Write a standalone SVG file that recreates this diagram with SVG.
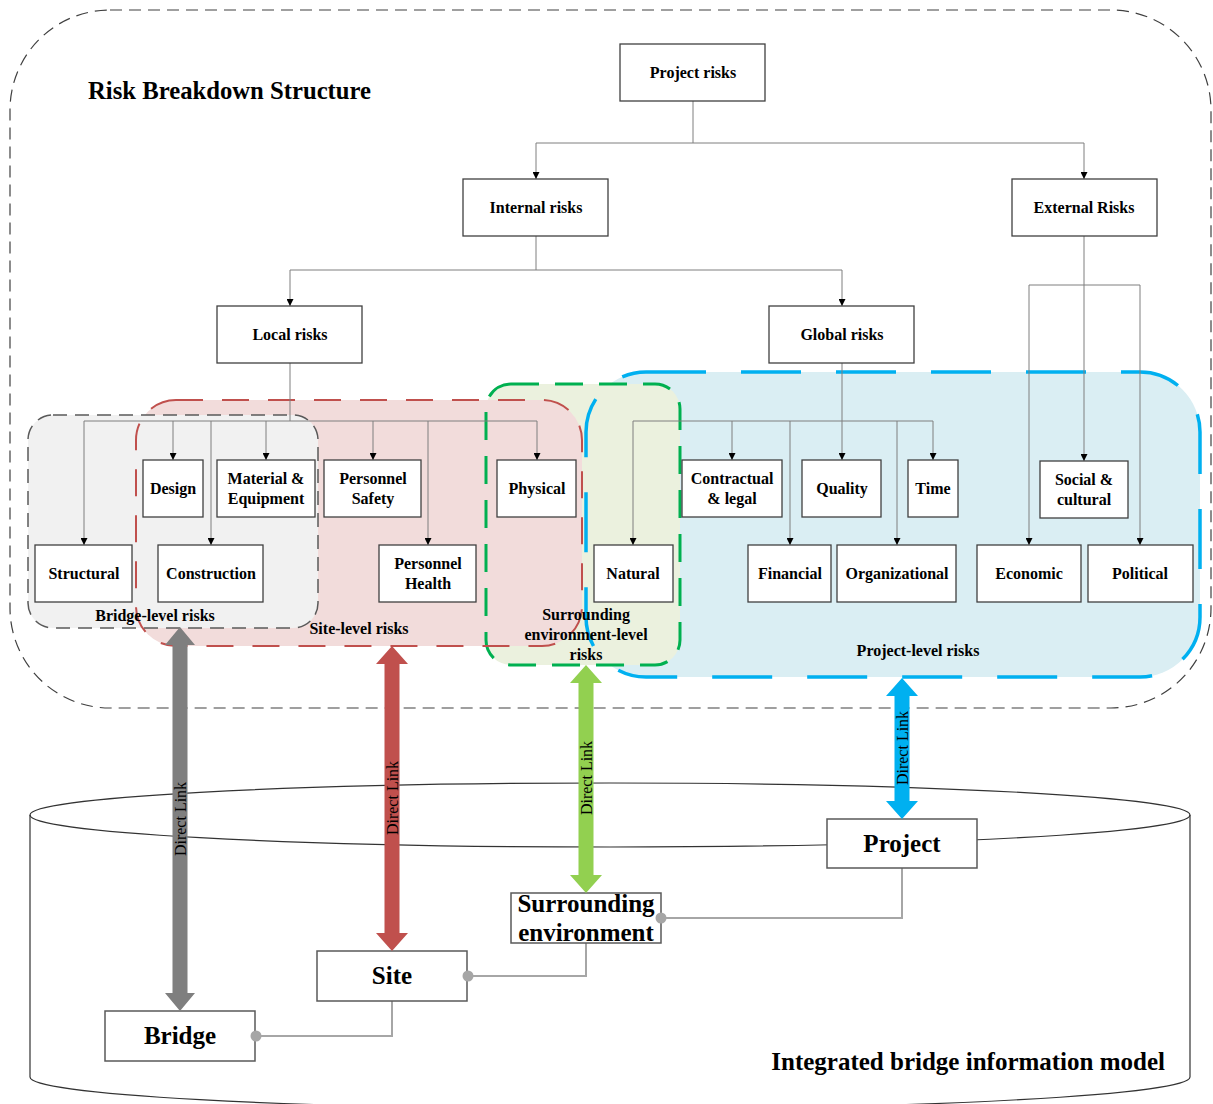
<svg xmlns="http://www.w3.org/2000/svg" width="1213" height="1104" viewBox="0 0 1213 1104">
<defs>
<style>
.box{fill:#fff;stroke:#404040;stroke-width:1.3}
.bbox{fill:#fff;stroke:#595959;stroke-width:1.5}
.t{font-family:"Liberation Serif","Times New Roman",serif;font-weight:bold;font-size:16px;fill:#000;text-anchor:middle}
.tb{font-family:"Liberation Serif","Times New Roman",serif;font-weight:bold;font-size:25px;fill:#000;text-anchor:middle}
.dl{font-family:"Liberation Serif","Times New Roman",serif;font-size:16px;fill:#000;text-anchor:middle}
.tree{fill:none;stroke:#7f7f7f;stroke-width:1}
.tree.a{marker-end:url(#ah)}
.link{fill:none;stroke:#a6a6a6;stroke-width:2}
.dot{fill:#a6a6a6}
</style>
<marker id="ah" viewBox="0 0 8 8" refX="8" refY="4" markerWidth="8" markerHeight="7" orient="auto" markerUnits="userSpaceOnUse"><path d="M0,0 L8,4 L0,8 z" fill="#000"/></marker>
</defs>
<rect width="1213" height="1104" fill="#fff"/>

<!-- outer RBS frame -->
<g id="rbs-frame">
<rect x="10" y="10" width="1201" height="698" rx="100" ry="100" fill="none" stroke="#404040" stroke-width="1.2" stroke-dasharray="12 7"/>
<text x="88" y="99" style="font-family:'Liberation Serif','Times New Roman',serif;font-weight:bold;font-size:24.7px">Risk Breakdown Structure</text>
</g>

<!-- group fills -->
<g id="group-fills">
<rect x="586" y="372" width="614" height="305" rx="60" fill="#daeef3"/>
<rect x="486" y="384" width="194" height="281" rx="25" fill="#ebf1de"/>
<rect x="136" y="400" width="446" height="246" rx="40" fill="#f2dcdb"/>
<rect x="28" y="415" width="290" height="213" rx="25" fill="#f1f1f1"/>
</g>
<g id="group-strokes" fill="none">
<rect x="586" y="372" width="614" height="305" rx="60" stroke="#00b0f0" stroke-width="3.5" stroke-dasharray="60 35"/>
<rect x="486" y="384" width="194" height="281" rx="25" stroke="#00b050" stroke-width="3" stroke-dasharray="28 16"/>
<rect x="136" y="400" width="446" height="246" rx="40" stroke="#c0504d" stroke-width="2" stroke-dasharray="27 19"/>
<rect x="28" y="415" width="290" height="213" rx="25" stroke="#595959" stroke-width="1.5" stroke-dasharray="14 8"/>
</g>
<g id="group-labels">
<text class="t" x="155" y="621">Bridge-level risks</text>
<text class="t" x="359" y="634">Site-level risks</text>
<text class="t" x="586" y="620">Surrounding</text>
<text class="t" x="586" y="640">environment-level</text>
<text class="t" x="586" y="660">risks</text>
<text class="t" x="918" y="656">Project-level risks</text>
</g>

<!-- tree connectors -->
<g id="tree-connectors">
<path class="tree a" d="M693,101 V143 H536 V179"/>
<path class="tree a" d="M693,143 H1084 V179"/>
<path class="tree a" d="M536,236 V270 H290 V306"/>
<path class="tree a" d="M536,270 H842 V306"/>
<path class="tree a" d="M1084,236 V461"/>
<path class="tree a" d="M1084,285 H1029 V545"/>
<path class="tree a" d="M1084,285 H1140 V545"/>
<path class="tree" d="M290,363 V421 M84,421 H537"/>
<path class="tree a" d="M84,421 V545"/>
<path class="tree a" d="M173,421 V460"/>
<path class="tree a" d="M211,421 V545"/>
<path class="tree a" d="M266,421 V460"/>
<path class="tree a" d="M373,421 V460"/>
<path class="tree a" d="M428,421 V545"/>
<path class="tree a" d="M537,421 V460"/>
<path class="tree" d="M633,421 H933"/>
<path class="tree a" d="M842,363 V460"/>
<path class="tree a" d="M633,421 V545"/>
<path class="tree a" d="M732,421 V460"/>
<path class="tree a" d="M790,421 V545"/>
<path class="tree a" d="M897,421 V545"/>
<path class="tree a" d="M933,421 V460"/>
</g>

<!-- tree nodes -->
<g id="n-project-risks"><rect class="box" x="620" y="44" width="145" height="57"/><text class="t" x="693" y="78">Project risks</text></g>
<g id="n-internal"><rect class="box" x="463" y="179" width="145" height="57"/><text class="t" x="536" y="213">Internal risks</text></g>
<g id="n-external"><rect class="box" x="1012" y="179" width="145" height="57"/><text class="t" x="1084" y="213">External Risks</text></g>
<g id="n-local"><rect class="box" x="217" y="306" width="145" height="57"/><text class="t" x="290" y="340">Local risks</text></g>
<g id="n-global"><rect class="box" x="769" y="306" width="145" height="57"/><text class="t" x="842" y="340">Global risks</text></g>

<g id="n-structural"><rect class="box" x="35" y="545" width="97" height="57"/><text class="t" x="84" y="579">Structural</text></g>
<g id="n-design"><rect class="box" x="143" y="460" width="60" height="57"/><text class="t" x="173" y="494">Design</text></g>
<g id="n-construction"><rect class="box" x="158" y="545" width="105" height="57"/><text class="t" x="211" y="579">Construction</text></g>
<g id="n-material"><rect class="box" x="217" y="460" width="98" height="57"/><text class="t" x="266" y="484">Material &amp;</text><text class="t" x="266" y="504">Equipment</text></g>
<g id="n-safety"><rect class="box" x="324" y="460" width="97" height="57"/><text class="t" x="373" y="484">Personnel</text><text class="t" x="373" y="504">Safety</text></g>
<g id="n-health"><rect class="box" x="379" y="545" width="97" height="57"/><text class="t" x="428" y="569">Personnel</text><text class="t" x="428" y="589">Health</text></g>
<g id="n-physical"><rect class="box" x="497" y="460" width="79" height="57"/><text class="t" x="537" y="494">Physical</text></g>
<g id="n-natural"><rect class="box" x="594" y="545" width="79" height="57"/><text class="t" x="633" y="579">Natural</text></g>
<g id="n-contractual"><rect class="box" x="682" y="460" width="100" height="57"/><text class="t" x="732" y="484">Contractual</text><text class="t" x="732" y="504">&amp; legal</text></g>
<g id="n-quality"><rect class="box" x="802" y="460" width="79" height="57"/><text class="t" x="842" y="494">Quality</text></g>
<g id="n-time"><rect class="box" x="908" y="460" width="50" height="57"/><text class="t" x="933" y="494">Time</text></g>
<g id="n-financial"><rect class="box" x="748" y="545" width="83" height="57"/><text class="t" x="790" y="579">Financial</text></g>
<g id="n-organizational"><rect class="box" x="837" y="545" width="119" height="57"/><text class="t" x="897" y="579">Organizational</text></g>
<g id="n-social"><rect class="box" x="1040" y="461" width="88" height="57"/><text class="t" x="1084" y="485">Social &amp;</text><text class="t" x="1084" y="505">cultural</text></g>
<g id="n-economic"><rect class="box" x="977" y="545" width="104" height="57"/><text class="t" x="1029" y="579">Economic</text></g>
<g id="n-political"><rect class="box" x="1088" y="545" width="105" height="57"/><text class="t" x="1140" y="579">Political</text></g>

<!-- cylinder -->
<g id="ibim-cylinder" fill="none" stroke="#333" stroke-width="1.2">
<ellipse cx="610" cy="815" rx="580" ry="32"/>
<path d="M30,815 V1077 A580,32 0 0 0 1190,1077 V815"/>
<text x="1165" y="1070" stroke="none" style="font-family:'Liberation Serif','Times New Roman',serif;font-weight:bold;font-size:25px;fill:#000;text-anchor:end">Integrated bridge information model</text>
</g>

<!-- bottom connectors -->
<g id="model-connectors">
<path class="link" d="M255,1036 H392 V1001"/>
<path class="link" d="M467,976 H586 V943"/>
<path class="link" d="M661,918 H902 V868"/>
</g>

<!-- bottom nodes -->
<g id="m-project"><rect class="bbox" x="827" y="819" width="150" height="49"/><text class="tb" x="902" y="852">Project</text></g>
<g id="m-surrounding"><rect class="bbox" x="511" y="893" width="150" height="50"/><text class="tb" x="586" y="912">Surrounding</text><text class="tb" x="586" y="941">environment</text></g>
<g id="m-site"><rect class="bbox" x="317" y="951" width="150" height="50"/><text class="tb" x="392" y="984">Site</text></g>
<g id="m-bridge"><rect class="bbox" x="105" y="1011" width="150" height="50"/><text class="tb" x="180" y="1044">Bridge</text></g>

<g id="connector-dots">
<circle class="dot" cx="256" cy="1036" r="5.5"/>
<circle class="dot" cx="468" cy="976" r="5.5"/>
<circle class="dot" cx="661" cy="918" r="5.5"/>
</g>

<!-- direct links -->
<g id="direct-links">
<polygon fill="#7f7f7f" points="180,627 195,645 187.5,645 187.5,993 195,993 180,1011 165,993 172.5,993 172.5,645 165,645"/>
<polygon fill="#c0504d" points="392,646 408,664 399.5,664 399.5,933 408,933 392,951 376,933 384.5,933 384.5,664 376,664"/>
<polygon fill="#92d050" points="586,665 602,683 593.5,683 593.5,875 602,875 586,893 570,875 578.5,875 578.5,683 570,683"/>
<polygon fill="#00b0f0" points="902,678 918,696 909.5,696 909.5,801 918,801 902,819 886,801 894.5,801 894.5,696 886,696"/>
<text class="dl" transform="translate(185.5,819) rotate(-90)">Direct Link</text>
<text class="dl" transform="translate(397.5,798) rotate(-90)">Direct Link</text>
<text class="dl" transform="translate(591.5,778) rotate(-90)">Direct Link</text>
<text class="dl" transform="translate(907.5,748) rotate(-90)">Direct Link</text>
</g>
</svg>
